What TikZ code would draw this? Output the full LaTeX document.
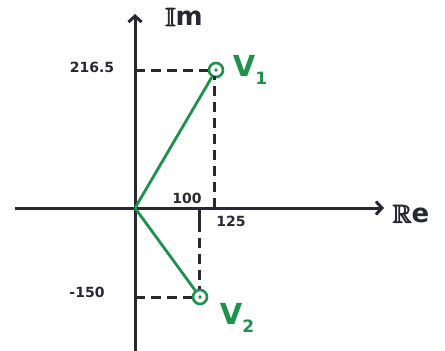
\documentclass[tikz,border=0pt]{standalone}
\usepackage{amssymb}
\usepackage{fontspec}
\setmainfont{DejaVu Sans}
\usetikzlibrary{arrows.meta}
\definecolor{pen}{RGB}{40,40,52}
\definecolor{vgreen}{RGB}{30,145,75}
\newcommand{\heavybb}[1]{\special{pdf:literal 2 Tr 0.9 w}$\mathbb{#1}$\special{pdf:literal 0 Tr}}
\begin{document}
\begin{tikzpicture}[x=1pt,y=-1pt,
  axis/.style={draw=pen,line width=3pt,-{Straight Barb[length=6pt,width=13pt,line width=3pt]}},
  guide/.style={draw=pen,line width=3pt,dash pattern=on 10pt off 6pt},
  phasor/.style={draw=vgreen,line width=2.8pt},
  tip/.style={circle,draw=vgreen,line width=2.6pt,minimum size=14pt,inner sep=0pt},
  lab/.style={text=pen,inner sep=0pt,font=\bfseries\fontsize{14}{14}\selectfont},
  axlab/.style={text=pen,inner sep=0pt,font=\bfseries\fontsize{26}{26}\selectfont},
  vlab/.style={text=vgreen,inner sep=0pt,font=\bfseries\fontsize{29}{29}\selectfont}]
\useasboundingbox (0,0) rectangle (445,351);
\coordinate (O) at (135,208);
\coordinate (xs) at (15,208);
\coordinate (xe) at (384,208);
\coordinate (ys) at (135,351);
\coordinate (ye) at (135,14);
\draw[axis] (xs) -- (xe);
\draw[axis] (ys) -- (ye);
\node[tip] (V1) at (216,70) {};
\node[tip] (V2) at (200,297) {};
\fill[vgreen] (V1.center) circle (1.8pt);
\fill[vgreen] (V2.center) circle (1.8pt);
\draw[phasor] (O) -- (V1);
\draw[phasor] (O) -- (V2);
\coordinate (y1) at (O |- V1);
\coordinate (y2) at (O |- V2);
\coordinate (x1) at (214,208);
\coordinate (x1t) at (214,76);
\coordinate (x2) at (199,208);
\coordinate (x2k) at (199,222);
\coordinate (x2t) at (199,289);
\draw[guide] (y1) -- (V1.west);
\draw[guide] (y2) -- (V2.west);
\draw[guide] (x1) -- (x1t);
\draw[pen,line width=3pt] (x2) -- (x2k);
\draw[guide] (x2k) -- (x2t);
\node[lab] (l216) at (92,67) {216.5};
\node[lab] (l100) at (187,198) {100};
\node[lab] (l125) at (231,221) {125};
\node[lab] (l150) at (87,292) {-150};
\node[axlab] (im) at (184,17) {\heavybb{I}m};
\node[axlab] (re) at (411,214) {\heavybb{R}e};
\node[vlab] (n1) at (250,70) {V\raisebox{-0.3em}{\fontsize{17}{17}\selectfont 1}};
\node[vlab] (n2) at (237,318) {V\raisebox{-0.3em}{\fontsize{17}{17}\selectfont 2}};
\end{tikzpicture}
\end{document}
